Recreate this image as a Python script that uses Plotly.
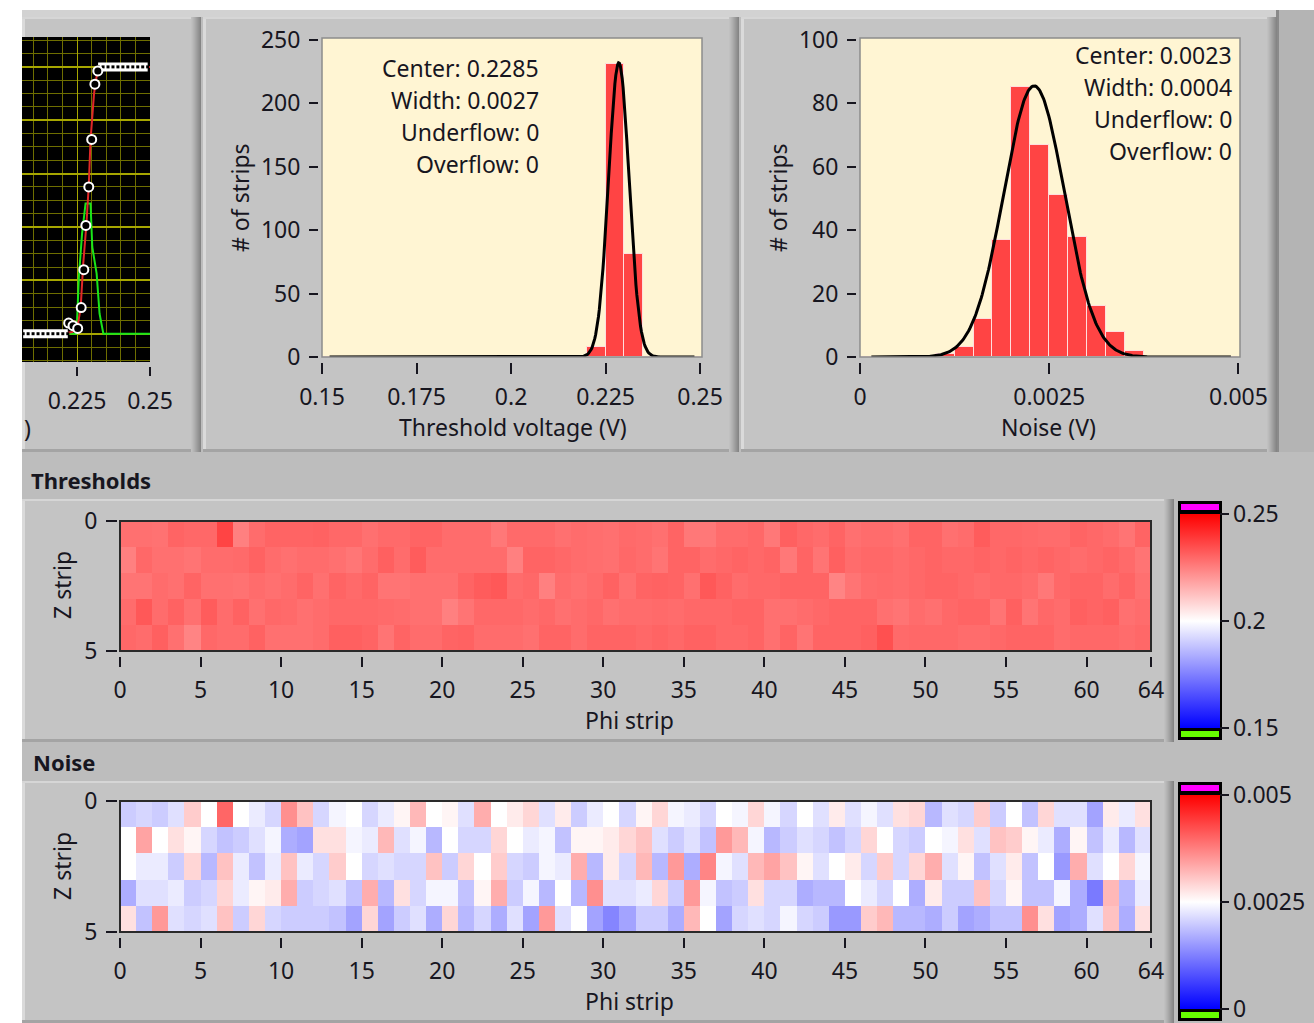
import numpy as np
import plotly.graph_objects as go

# ---------------------------------------------------------------- data
# Threshold histogram: 20 bins of 5 mV from 0.15 V to 0.25 V
thr_bin_start = 0.15
thr_bin_width = 0.005
thr_counts = [0, 0, 0, 0, 0, 0, 0, 0, 0, 0, 0, 0, 0, 0, 8, 231, 81, 0, 0, 0]
thr_center = 0.2285
thr_width = 0.0027
thr_peak = 232
thr_underflow = 0
thr_overflow = 0
thr_fit_span = (0.152, 0.2485)

# Noise histogram: 20 bins of 0.25 mV from 0 V to 5 mV
noise_bin_start = 0.0
noise_bin_width = 0.00025
noise_counts = [0, 0, 0, 0, 1, 3, 12, 37, 85, 67, 51, 38, 16, 8, 2, 0, 0, 0, 0, 0]
noise_center = 0.0023
noise_width = 0.0004
noise_peak = 85.5
noise_underflow = 0
noise_overflow = 0
noise_fit_span = (0.00015, 0.0049)

# Threshold map (V), Z strip rows 0..4, Phi strips 0..63
thr_z0 = [0.2280, 0.2280, 0.2276, 0.2304, 0.2296, 0.2296, 0.2367, 0.2249, 0.2288, 0.2304, 0.2304, 0.2304, 0.2308, 0.2296, 0.2296, 0.2280,
          0.2292, 0.2292, 0.2304, 0.2304, 0.2288, 0.2288, 0.2288, 0.2265, 0.2292, 0.2292, 0.2292, 0.2280, 0.2288, 0.2284, 0.2280, 0.2292,
          0.2288, 0.2280, 0.2304, 0.2265, 0.2265, 0.2288, 0.2288, 0.2296, 0.2265, 0.2312, 0.2296, 0.2288, 0.2304, 0.2280, 0.2288, 0.2288,
          0.2280, 0.2304, 0.2304, 0.2280, 0.2288, 0.2320, 0.2296, 0.2296, 0.2292, 0.2288, 0.2288, 0.2304, 0.2296, 0.2288, 0.2273, 0.2304]
thr_z1 = [0.2249, 0.2296, 0.2280, 0.2280, 0.2273, 0.2288, 0.2288, 0.2292, 0.2308, 0.2288, 0.2280, 0.2288, 0.2288, 0.2280, 0.2269, 0.2288,
          0.2312, 0.2288, 0.2320, 0.2288, 0.2288, 0.2288, 0.2288, 0.2288, 0.2249, 0.2304, 0.2304, 0.2296, 0.2288, 0.2284, 0.2280, 0.2296,
          0.2288, 0.2273, 0.2304, 0.2304, 0.2288, 0.2296, 0.2304, 0.2296, 0.2304, 0.2265, 0.2304, 0.2273, 0.2312, 0.2288, 0.2296, 0.2296,
          0.2288, 0.2296, 0.2304, 0.2296, 0.2296, 0.2304, 0.2296, 0.2304, 0.2296, 0.2304, 0.2296, 0.2288, 0.2296, 0.2304, 0.2292, 0.2273]
thr_z2 = [0.2273, 0.2273, 0.2288, 0.2280, 0.2304, 0.2280, 0.2280, 0.2276, 0.2288, 0.2280, 0.2288, 0.2304, 0.2280, 0.2304, 0.2292, 0.2304,
          0.2273, 0.2273, 0.2280, 0.2280, 0.2280, 0.2304, 0.2320, 0.2327, 0.2288, 0.2296, 0.2249, 0.2288, 0.2280, 0.2290, 0.2308, 0.2280,
          0.2304, 0.2308, 0.2304, 0.2280, 0.2327, 0.2308, 0.2288, 0.2296, 0.2296, 0.2304, 0.2304, 0.2304, 0.2241, 0.2273, 0.2288, 0.2292,
          0.2288, 0.2296, 0.2304, 0.2304, 0.2296, 0.2288, 0.2296, 0.2296, 0.2288, 0.2265, 0.2296, 0.2304, 0.2304, 0.2288, 0.2304, 0.2280]
thr_z3 = [0.2288, 0.2327, 0.2288, 0.2308, 0.2280, 0.2320, 0.2288, 0.2308, 0.2280, 0.2296, 0.2292, 0.2280, 0.2288, 0.2296, 0.2296, 0.2296,
          0.2292, 0.2288, 0.2280, 0.2280, 0.2249, 0.2273, 0.2296, 0.2296, 0.2296, 0.2288, 0.2296, 0.2280, 0.2288, 0.2296, 0.2280, 0.2288,
          0.2288, 0.2292, 0.2288, 0.2296, 0.2296, 0.2296, 0.2304, 0.2304, 0.2280, 0.2280, 0.2288, 0.2296, 0.2304, 0.2304, 0.2304, 0.2280,
          0.2273, 0.2288, 0.2280, 0.2296, 0.2304, 0.2304, 0.2273, 0.2312, 0.2273, 0.2296, 0.2288, 0.2312, 0.2304, 0.2312, 0.2280, 0.2288]
thr_z4 = [0.2296, 0.2288, 0.2312, 0.2280, 0.2241, 0.2296, 0.2288, 0.2288, 0.2308, 0.2280, 0.2280, 0.2280, 0.2288, 0.2312, 0.2312, 0.2304,
          0.2273, 0.2304, 0.2288, 0.2288, 0.2304, 0.2308, 0.2288, 0.2288, 0.2288, 0.2280, 0.2304, 0.2304, 0.2288, 0.2304, 0.2304, 0.2304,
          0.2296, 0.2304, 0.2296, 0.2308, 0.2308, 0.2296, 0.2296, 0.2304, 0.2280, 0.2304, 0.2273, 0.2304, 0.2304, 0.2304, 0.2312, 0.2343,
          0.2292, 0.2296, 0.2296, 0.2296, 0.2288, 0.2288, 0.2296, 0.2304, 0.2304, 0.2304, 0.2288, 0.2296, 0.2296, 0.2296, 0.2288, 0.2296]

# Noise map (V)
noise_z0 = [0.0020, 0.0021, 0.0020, 0.0022, 0.0030, 0.0025, 0.0040, 0.0025, 0.0023, 0.0021, 0.0036, 0.0031, 0.0021, 0.0024, 0.0025, 0.0021,
            0.0023, 0.0026, 0.0032, 0.0025, 0.0026, 0.0022, 0.0033, 0.0025, 0.0027, 0.0029, 0.0022, 0.0027, 0.0020, 0.0023, 0.0025, 0.0021,
            0.0026, 0.0029, 0.0024, 0.0023, 0.0021, 0.0025, 0.0024, 0.0029, 0.0024, 0.0021, 0.0025, 0.0022, 0.0027, 0.0022, 0.0024, 0.0022,
            0.0028, 0.0029, 0.0018, 0.0022, 0.0021, 0.0030, 0.0020, 0.0025, 0.0019, 0.0029, 0.0022, 0.0022, 0.0016, 0.0027, 0.0023, 0.0028]
noise_z1 = [0.0025, 0.0034, 0.0025, 0.0028, 0.0026, 0.0021, 0.0019, 0.0020, 0.0022, 0.0024, 0.0017, 0.0016, 0.0028, 0.0028, 0.0024, 0.0023,
            0.0032, 0.0022, 0.0024, 0.0018, 0.0025, 0.0021, 0.0021, 0.0029, 0.0025, 0.0023, 0.0024, 0.0019, 0.0026, 0.0026, 0.0027, 0.0029,
            0.0031, 0.0022, 0.0020, 0.0022, 0.0019, 0.0035, 0.0032, 0.0024, 0.0018, 0.0020, 0.0022, 0.0021, 0.0019, 0.0021, 0.0029, 0.0025,
            0.0021, 0.0020, 0.0025, 0.0024, 0.0028, 0.0022, 0.0031, 0.0030, 0.0026, 0.0023, 0.0017, 0.0026, 0.0019, 0.0023, 0.0018, 0.0022]
noise_z2 = [0.0025, 0.0023, 0.0023, 0.0020, 0.0029, 0.0018, 0.0031, 0.0023, 0.0019, 0.0023, 0.0031, 0.0023, 0.0021, 0.0030, 0.0025, 0.0021,
            0.0022, 0.0021, 0.0021, 0.0031, 0.0020, 0.0029, 0.0025, 0.0030, 0.0021, 0.0020, 0.0024, 0.0023, 0.0033, 0.0018, 0.0027, 0.0021,
            0.0032, 0.0018, 0.0035, 0.0017, 0.0037, 0.0024, 0.0022, 0.0032, 0.0034, 0.0031, 0.0026, 0.0022, 0.0025, 0.0027, 0.0021, 0.0030,
            0.0021, 0.0029, 0.0033, 0.0022, 0.0026, 0.0019, 0.0022, 0.0027, 0.0019, 0.0025, 0.0015, 0.0033, 0.0022, 0.0025, 0.0029, 0.0024]
noise_z3 = [0.0017, 0.0022, 0.0022, 0.0023, 0.0020, 0.0021, 0.0029, 0.0023, 0.0026, 0.0027, 0.0033, 0.0020, 0.0021, 0.0022, 0.0019, 0.0033,
            0.0018, 0.0028, 0.0021, 0.0024, 0.0024, 0.0019, 0.0026, 0.0033, 0.0020, 0.0024, 0.0018, 0.0025, 0.0018, 0.0036, 0.0022, 0.0022,
            0.0023, 0.0029, 0.0020, 0.0035, 0.0024, 0.0019, 0.0020, 0.0028, 0.0021, 0.0021, 0.0017, 0.0018, 0.0018, 0.0025, 0.0023, 0.0021,
            0.0025, 0.0017, 0.0027, 0.0020, 0.0020, 0.0031, 0.0021, 0.0026, 0.0019, 0.0019, 0.0024, 0.0017, 0.0012, 0.0032, 0.0018, 0.0023]
noise_z4 = [0.0028, 0.0019, 0.0035, 0.0022, 0.0021, 0.0022, 0.0031, 0.0020, 0.0029, 0.0021, 0.0020, 0.0020, 0.0020, 0.0019, 0.0016, 0.0029,
            0.0016, 0.0020, 0.0022, 0.0017, 0.0029, 0.0018, 0.0021, 0.0017, 0.0022, 0.0016, 0.0035, 0.0022, 0.0025, 0.0016, 0.0013, 0.0016,
            0.0020, 0.0020, 0.0017, 0.0032, 0.0025, 0.0016, 0.0021, 0.0022, 0.0021, 0.0024, 0.0021, 0.0020, 0.0015, 0.0015, 0.0030, 0.0032,
            0.0018, 0.0018, 0.0017, 0.0020, 0.0016, 0.0017, 0.0019, 0.0019, 0.0036, 0.0028, 0.0016, 0.0017, 0.0022, 0.0031, 0.0017, 0.0028]

# Single-strip threshold scan (occupancy vs threshold voltage)
scan_low_v = [0.2065, 0.2082, 0.2099, 0.2116, 0.2133, 0.2150, 0.2167, 0.2184, 0.2201, 0.2218]
scan_high_v = [0.2322, 0.2339, 0.2356, 0.2373, 0.2390, 0.2407, 0.2424, 0.2441, 0.2458, 0.2475, 0.2492]
scan_mid_v = [0.2221, 0.2236, 0.2252, 0.2264, 0.2273, 0.2280, 0.2290, 0.2300, 0.2311, 0.2321]
scan_mid_occ = [0.040, 0.030, 0.020, 0.098, 0.240, 0.406, 0.550, 0.728, 0.935, 0.985]
scan_fit_v = [0.2061, 0.2200, 0.2233, 0.2250, 0.2262, 0.2271, 0.2282, 0.2290, 0.2296, 0.2308, 0.2319, 0.2331, 0.2400, 0.2500]
scan_fit_occ = [0.0, 0.0, 0.006, 0.019, 0.094, 0.262, 0.412, 0.556, 0.725, 0.900, 0.980, 0.996, 1.0, 1.0]
scan_deriv_v = [0.2061, 0.2248, 0.2256, 0.2267, 0.2279, 0.2296, 0.2302, 0.2317, 0.2327, 0.2340, 0.2500]
scan_deriv = [0.0, 0.0, 0.212, 0.375, 0.488, 0.488, 0.325, 0.225, 0.075, 0.0, 0.0]

phi_ticks = [0, 5, 10, 15, 20, 25, 30, 35, 40, 45, 50, 55, 60, 64]

# ---------------------------------------------------------------- helpers
FIG_W, FIG_H = 1314, 1023
FONT = "Noto Sans"
INK = "#17161f"
PAGE = "#bdbdbd"
FACE = "#c4c4c4"
CREAM = "#fff5d3"
BAR_RED = "#ff4444"
TXT = 23


def fx(x):
    return x / FIG_W


def fy(y):
    return 1 - y / FIG_H


shapes = []
annotations = []


def rect(x0, y0, x1, y1, fill=None, line=None, lw=0, layer="below"):
    shapes.append(dict(type="rect", xref="paper", yref="paper",
                       x0=fx(x0), x1=fx(x1), y0=fy(y1), y1=fy(y0),
                       fillcolor=fill or "rgba(0,0,0,0)",
                       line=dict(color=line or "rgba(0,0,0,0)", width=lw),
                       layer=layer))


def panel(x0, y0, x1, y1):
    rect(x0, y0, x1, y1, FACE)
    rect(x0, y0, x0 + 3, y1, "#dadada")
    rect(x0, y0, x1, y0 + 2, "#d6d6d6")
    shades = ["#c0c0c0", "#bbbbbb", "#b5b5b5", "#afafaf", "#a8a8a8",
              "#a1a1a1", "#9a9a9a", "#939393", "#8c8c8c", "#858585"]
    n = len(shades)
    for i, c in enumerate(shades):
        rect(x1 - n + i, y0, x1 - n + i + 1, y1, c)
    rect(x0, y1 - 3, x1 - n, y1, "#a4a4a4")


def text(t, x, y, xanchor="center", size=TXT, angle=0, bold=False):
    annotations.append(dict(text=f"<b>{t}</b>" if bold else t, xref="paper", yref="paper",
                            x=fx(x), y=fy(y), xanchor=xanchor, yanchor="middle",
                            showarrow=False, textangle=angle,
                            font=dict(family=FONT, size=size, color=INK)))


def gauss(span, center, width, peak):
    xs = np.linspace(span[0], span[1], 400)
    return xs, peak * np.exp(-0.5 * ((xs - center) / width) ** 2)


# ---------------------------------------------------------------- backdrop
rect(0, 0, FIG_W, FIG_H, PAGE)
rect(0, 0, FIG_W, 10, "#ffffff")
rect(0, 0, 22, FIG_H, "#ffffff")
rect(22, 10, 1276, 17, "#d2d2d2")
rect(1276, 10, FIG_W, 452, "#b4b4b4")
rect(1276, 10, 1279, 452, "#8a8a8a")

panel(22, 17, 201, 452)
panel(203, 17, 739, 452)
panel(741, 17, 1277, 452)
panel(22, 499, 1174, 742)
panel(22, 781, 1174, 1023)

# plot-area backgrounds
rect(22, 37, 150, 362, "#000000")
rect(322, 38, 702, 357, CREAM)
rect(860, 38, 1240, 357, CREAM)

# colour-ramp frames with the out-of-range swatches
for top in (501, 782):
    rect(1178, top, 1222, top + 239, "#000000")
    rect(1181, top + 3, 1219, top + 9, "#ff00ff")
    rect(1181, top + 230, 1219, top + 236, "#66ff00")

# ---------------------------------------------------------------- figure
fig = go.Figure()

# single strip scan (left panel)
fig.add_trace(go.Scatter(x=scan_deriv_v, y=scan_deriv, mode="lines",
                         line=dict(color="#19e619", width=2), xaxis="x", yaxis="y"))
fig.add_trace(go.Scatter(x=scan_fit_v, y=scan_fit_occ, mode="lines",
                         line=dict(color="#e02828", width=2), xaxis="x", yaxis="y"))
for vs, occ in ((scan_low_v, 0.0), (scan_high_v, 1.0)):
    fig.add_trace(go.Scatter(x=vs, y=[occ] * len(vs), mode="lines+markers",
                             line=dict(color="#ffffff", width=9),
                             marker=dict(color="#000000", size=3, symbol="square"),
                             xaxis="x", yaxis="y"))
fig.add_trace(go.Scatter(x=scan_mid_v, y=scan_mid_occ, mode="markers",
                         marker=dict(color="#000000", size=9, symbol="circle",
                                     line=dict(color="#ffffff", width=2)),
                         xaxis="x", yaxis="y"))

# threshold histogram
thr_x = [thr_bin_start + thr_bin_width * (i + 0.5) for i in range(len(thr_counts))]
fig.add_trace(go.Bar(x=thr_x, y=thr_counts, width=thr_bin_width,
                     marker=dict(color=BAR_RED, line=dict(color="#ffdede", width=1)),
                     xaxis="x2", yaxis="y2"))
gx, gy = gauss(thr_fit_span, thr_center, thr_width, thr_peak)
fig.add_trace(go.Scatter(x=gx, y=gy, mode="lines", line=dict(color="#000000", width=3),
                         xaxis="x2", yaxis="y2"))

# noise histogram
noise_x = [noise_bin_start + noise_bin_width * (i + 0.5) for i in range(len(noise_counts))]
fig.add_trace(go.Bar(x=noise_x, y=noise_counts, width=noise_bin_width,
                     marker=dict(color=BAR_RED, line=dict(color="#ffdede", width=1)),
                     xaxis="x3", yaxis="y3"))
gx, gy = gauss(noise_fit_span, noise_center, noise_width, noise_peak)
fig.add_trace(go.Scatter(x=gx, y=gy, mode="lines", line=dict(color="#000000", width=3),
                         xaxis="x3", yaxis="y3"))

# maps
ramp = [[0.0, "#0000ff"], [0.5, "#ffffff"], [1.0, "#ff0000"]]


def ramp_bar(top, vals, labels):
    return dict(x=fx(1180), xanchor="left", y=fy(top), yanchor="top",
                lenmode="pixels", len=214, thicknessmode="pixels", thickness=40,
                outlinewidth=0, xpad=0, ypad=0,
                tickmode="array", tickvals=vals, ticktext=labels,
                ticks="outside", ticklen=9, tickwidth=2, tickcolor=INK,
                ticklabeloverflow="allow",
                tickfont=dict(family=FONT, size=TXT, color=INK))


fig.add_trace(go.Heatmap(z=[thr_z0, thr_z1, thr_z2, thr_z3, thr_z4],
                         x0=0.5, dx=1, y0=0.5, dy=1,
                         colorscale=ramp, zmin=0.15, zmax=0.25,
                         colorbar=ramp_bar(514, [0.15, 0.2, 0.25], ["0.15", "0.2", "0.25"]),
                         xaxis="x4", yaxis="y4"))
fig.add_trace(go.Heatmap(z=[noise_z0, noise_z1, noise_z2, noise_z3, noise_z4],
                         x0=0.5, dx=1, y0=0.5, dy=1,
                         colorscale=ramp, zmin=0.0, zmax=0.005,
                         colorbar=ramp_bar(795, [0.0, 0.0025, 0.005], ["0", "0.0025", "0.005"]),
                         xaxis="x5", yaxis="y5"))

# plot-area frames
rect(322, 38, 702, 357, None, "#8c8c8c", 1.5, "above")
rect(860, 38, 1240, 357, None, "#8c8c8c", 1.5, "above")
rect(120, 521, 1151, 651, None, "#2a2a2a", 2, "above")
rect(120, 801, 1151, 932, None, "#2a2a2a", 2, "above")

# ---------------------------------------------------------------- axes
tickfont = dict(family=FONT, size=TXT, color=INK)
common = dict(showgrid=False, zeroline=False, showline=False, fixedrange=True,
              tickfont=tickfont, ticks="outside", tickcolor=INK, tickwidth=2)

layout_axes = dict(
    xaxis=dict(common, domain=[fx(22), fx(150)], range=[0.2061, 0.25], anchor="free",
               position=fy(366), tickmode="array", tickvals=[0.225, 0.25],
               ticktext=["0.225", "0.25"], ticklen=9, ticklabelstandoff=5,
               showgrid=True, gridcolor="#a6a600", gridwidth=1,
               minor=dict(tick0=0, dtick=0.005, showgrid=True, gridcolor="#6e6e00",
                          gridwidth=1, ticks="")),
    yaxis=dict(common, domain=[fy(362), fy(37)], range=[-0.106, 1.112], anchor="x",
               showticklabels=False, ticks="", tick0=0, dtick=0.2,
               showgrid=True, gridcolor="#a6a600", gridwidth=1.5,
               minor=dict(tick0=0, dtick=0.05, showgrid=True, gridcolor="#6e6e00",
                          gridwidth=1, ticks="")),
    xaxis2=dict(common, domain=[fx(322), fx(702)], range=[0.15, 0.2505], anchor="free",
                position=fy(362), tickmode="array",
                tickvals=[0.15, 0.175, 0.2, 0.225, 0.25],
                ticktext=["0.15", "0.175", "0.2", "0.225", "0.25"],
                ticklen=11, ticklabelstandoff=3),
    yaxis2=dict(common, domain=[fy(357), fy(38)], range=[0, 251.5], anchor="free",
                position=fx(318), tickmode="array", tickvals=[0, 50, 100, 150, 200, 250],
                ticklen=9, ticklabelstandoff=4),
    xaxis3=dict(common, domain=[fx(860), fx(1240)], range=[0, 0.00502], anchor="free",
                position=fy(362), tickmode="array", tickvals=[0, 0.0025, 0.005],
                ticktext=["0", "0.0025", "0.005"], ticklen=11, ticklabelstandoff=3),
    yaxis3=dict(common, domain=[fy(357), fy(38)], range=[0, 100.6], anchor="free",
                position=fx(856), tickmode="array", tickvals=[0, 20, 40, 60, 80, 100],
                ticklen=9, ticklabelstandoff=4),
    xaxis4=dict(common, domain=[fx(120), fx(1151)], range=[0, 64], anchor="free",
                position=fy(656), tickmode="array", tickvals=phi_ticks,
                ticklen=10, ticklabelstandoff=3),
    yaxis4=dict(common, domain=[fy(651), fy(521)], range=[5, 0], anchor="free",
                position=fx(117), tickmode="array", tickvals=[0, 5],
                ticklen=11, ticklabelstandoff=4),
    xaxis5=dict(common, domain=[fx(120), fx(1151)], range=[0, 64], anchor="free",
                position=fy(937), tickmode="array", tickvals=phi_ticks,
                ticklen=10, ticklabelstandoff=3),
    yaxis5=dict(common, domain=[fy(932), fy(801)], range=[5, 0], anchor="free",
                position=fx(117), tickmode="array", tickvals=[0, 5],
                ticklen=11, ticklabelstandoff=4),
)

# ---------------------------------------------------------------- labels
text(")", 22, 428, xanchor="left")
text("Threshold voltage (V)", 513, 427)
text("Noise (V)", 1048, 427)
text("# of strips", 240, 198, angle=-90)
text("# of strips", 778, 198, angle=-90)

thr_stats = [f"Center: {thr_center:.4f}", f"Width: {thr_width:.4f}",
             f"Underflow: {thr_underflow}", f"Overflow: {thr_overflow}"]
noise_stats = [f"Center: {noise_center:.4f}", f"Width: {noise_width:.4f}",
               f"Underflow: {noise_underflow}", f"Overflow: {noise_overflow}"]
for i, s in enumerate(thr_stats):
    text(s, 541, 68 + 32 * i, xanchor="right")
for i, s in enumerate(noise_stats):
    text(s, 1234, 55 + 32 * i, xanchor="right")

text("Thresholds", 29, 480, xanchor="left", size=22, bold=True)
text("Noise", 31, 762, xanchor="left", size=22, bold=True)
text("Phi strip", 629, 720)
text("Phi strip", 629, 1001)
text("Z strip", 62, 585, angle=-90)
text("Z strip", 62, 866, angle=-90)

fig.update_layout(
    width=FIG_W, height=FIG_H,
    margin=dict(l=0, r=0, t=0, b=0, pad=0, autoexpand=False),
    paper_bgcolor=PAGE, plot_bgcolor="rgba(0,0,0,0)",
    showlegend=False, bargap=0,
    shapes=shapes, annotations=annotations,
    font=dict(family=FONT, color=INK),
    **layout_axes,
)

fig.write_html("out.html")
